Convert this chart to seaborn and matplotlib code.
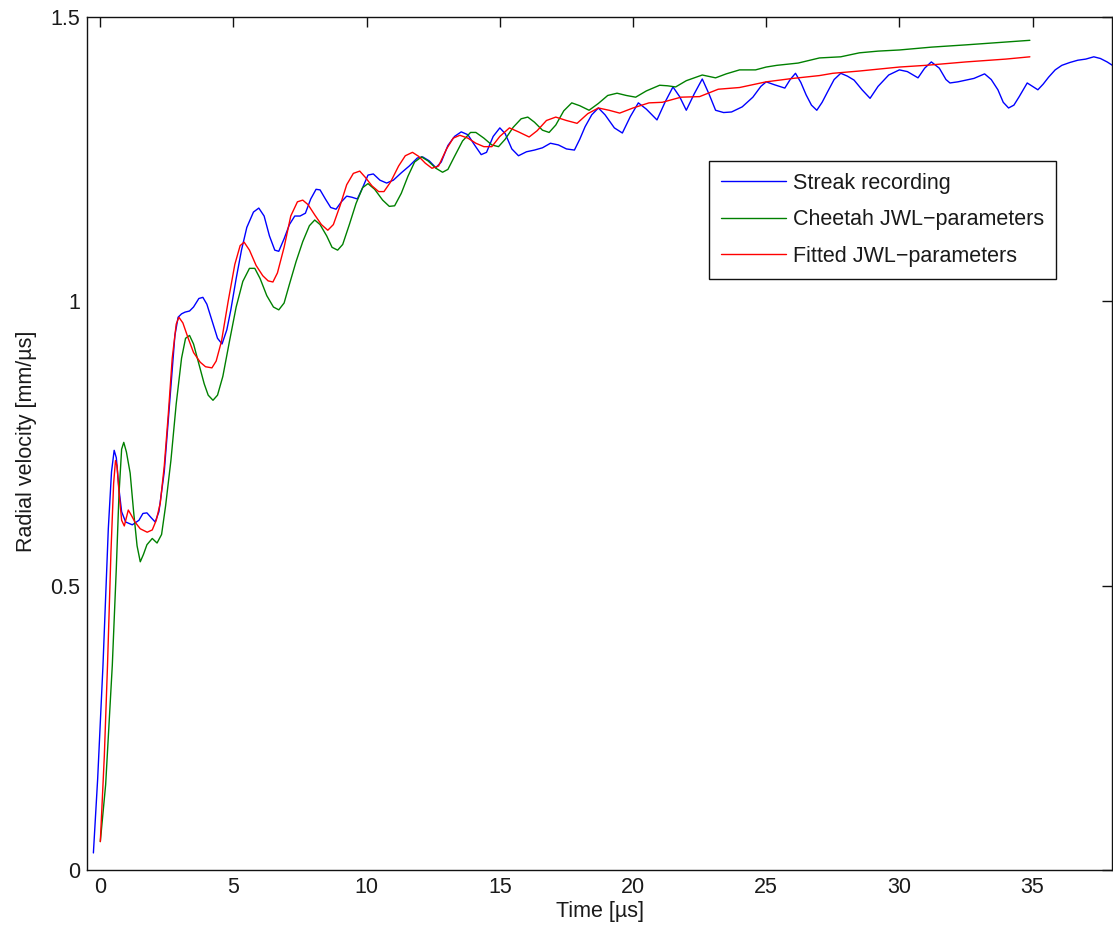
import numpy as np
import pandas as pd
import matplotlib
matplotlib.use("Agg")
import matplotlib.pyplot as plt
import seaborn as sns

# Streak recording (measured radial wall velocity)
streak_t = [-0.26, -0.1, 0.1, 0.3, 0.42, 0.52, 0.6, 0.7, 0.8, 0.95, 1.2, 1.45, 1.6,
            1.75, 1.9, 2.06, 2.2, 2.4, 2.6, 2.8, 2.92, 3.05, 3.18, 3.35, 3.5, 3.7,
            3.85, 4.0, 4.2, 4.4, 4.57, 4.75, 4.9, 5.1, 5.3, 5.5, 5.75, 5.95, 6.15,
            6.35, 6.55, 6.7, 6.9, 7.1, 7.3, 7.5, 7.7, 7.9, 8.1, 8.25, 8.45, 8.65,
            8.85, 9.05, 9.25, 9.45, 9.65, 9.85, 10.05, 10.25, 10.5, 10.75, 11.0,
            11.3, 11.6, 11.9, 12.1, 12.35, 12.6, 12.8, 13.05, 13.3, 13.55, 13.8,
            14.05, 14.3, 14.5, 14.75, 15.0, 15.2, 15.45, 15.7, 16.0, 16.3, 16.6,
            16.9, 17.2, 17.5, 17.8, 18.0, 18.2, 18.45, 18.7, 18.95, 19.3, 19.6,
            19.9, 20.2, 20.5, 20.9, 21.2, 21.5, 21.75, 22.0, 22.3, 22.6, 22.85,
            23.1, 23.4, 23.7, 24.1, 24.5, 24.8, 25.0, 25.3, 25.7, 25.9, 26.1, 26.3,
            26.5, 26.7, 26.9, 27.1, 27.3, 27.55, 27.8, 28.05, 28.3, 28.6, 28.9,
            29.2, 29.6, 30.0, 30.3, 30.7, 30.95, 31.2, 31.5, 31.75, 31.9, 32.2,
            32.5, 32.8, 33.2, 33.45, 33.7, 33.9, 34.1, 34.3, 34.5, 34.8, 35.0, 35.2,
            35.4, 35.6, 35.85, 36.1, 36.4, 36.7, 37.0, 37.3, 37.55, 37.8, 38.0]
streak_v = [0.03, 0.16, 0.36, 0.60, 0.70, 0.738, 0.725, 0.67, 0.63, 0.612, 0.607,
            0.615, 0.627, 0.628, 0.62, 0.612, 0.63, 0.70, 0.82, 0.94, 0.972, 0.978,
            0.981, 0.983, 0.99, 1.005, 1.007, 0.995, 0.965, 0.935, 0.925, 0.95,
            0.985, 1.04, 1.09, 1.13, 1.157, 1.164, 1.15, 1.115, 1.09, 1.088, 1.11,
            1.135, 1.15, 1.15, 1.155, 1.18, 1.197, 1.196, 1.18, 1.165, 1.162, 1.175,
            1.185, 1.183, 1.18, 1.20, 1.222, 1.224, 1.213, 1.208, 1.213, 1.226,
            1.238, 1.252, 1.254, 1.247, 1.235, 1.245, 1.274, 1.29, 1.298, 1.293,
            1.275, 1.258, 1.262, 1.29, 1.305, 1.295, 1.268, 1.256, 1.263, 1.266,
            1.27, 1.278, 1.275, 1.268, 1.266, 1.285, 1.307, 1.328, 1.34, 1.328,
            1.305, 1.296, 1.325, 1.349, 1.338, 1.319, 1.35, 1.377, 1.36, 1.336,
            1.365, 1.391, 1.365, 1.336, 1.332, 1.333, 1.342, 1.359, 1.378, 1.386,
            1.381, 1.375, 1.39, 1.401, 1.385, 1.363, 1.345, 1.336, 1.35, 1.368,
            1.39, 1.401, 1.396, 1.389, 1.372, 1.357, 1.378, 1.398, 1.407, 1.404,
            1.393, 1.41, 1.421, 1.41, 1.39, 1.384, 1.386, 1.389, 1.392, 1.40, 1.39,
            1.372, 1.35, 1.34, 1.345, 1.36, 1.384, 1.378, 1.372, 1.382, 1.394,
            1.407, 1.415, 1.42, 1.424, 1.426, 1.43, 1.427, 1.421, 1.415]

# Simulation with Cheetah JWL parameters
cheetah_t = [0.0, 0.2, 0.45, 0.6, 0.7, 0.8, 0.88, 0.98, 1.12, 1.25, 1.38, 1.5, 1.62,
             1.75, 1.95, 2.13, 2.3, 2.45, 2.65, 2.85, 3.05, 3.2, 3.35, 3.5, 3.7,
             3.9, 4.05, 4.23, 4.4, 4.6, 4.85, 5.1, 5.35, 5.6, 5.8, 6.0, 6.25, 6.5,
             6.7, 6.9, 7.1, 7.35, 7.6, 7.85, 8.05, 8.25, 8.5, 8.7, 8.91, 9.1, 9.35,
             9.6, 9.85, 10.05, 10.3, 10.6, 10.85, 11.05, 11.3, 11.55, 11.8, 12.06,
             12.3, 12.6, 12.85, 13.05, 13.3, 13.6, 13.9, 14.1, 14.4, 14.7, 14.95,
             15.2, 15.5, 15.8, 16.05, 16.3, 16.6, 16.85, 17.1, 17.4, 17.7, 18.0,
             18.35, 18.7, 19.05, 19.4, 19.75, 20.1, 20.5, 21.0, 21.3, 21.6, 22.0,
             22.6, 23.1, 23.5, 24.0, 24.6, 25.0, 25.4, 26.2, 27.0, 27.8, 28.5, 29.2,
             30.0, 31.2, 32.5, 33.7, 34.9]
cheetah_v = [0.05, 0.15, 0.36, 0.53, 0.66, 0.74, 0.752, 0.735, 0.698, 0.63, 0.57,
             0.542, 0.555, 0.572, 0.583, 0.575, 0.59, 0.64, 0.72, 0.82, 0.90, 0.935,
             0.94, 0.925, 0.89, 0.855, 0.835, 0.826, 0.835, 0.868, 0.93, 0.99,
             1.035, 1.058, 1.058, 1.04, 1.01, 0.99, 0.985, 0.997, 1.03, 1.07, 1.105,
             1.133, 1.143, 1.135, 1.115, 1.095, 1.09, 1.10, 1.135, 1.172, 1.20,
             1.207, 1.197, 1.178, 1.167, 1.168, 1.19, 1.22, 1.245, 1.254, 1.247,
             1.234, 1.227, 1.232, 1.255, 1.282, 1.297, 1.297, 1.287, 1.275, 1.272,
             1.285, 1.306, 1.321, 1.324, 1.315, 1.301, 1.297, 1.31, 1.335, 1.349,
             1.344, 1.336, 1.348, 1.362, 1.366, 1.362, 1.359, 1.37, 1.38, 1.379,
             1.377, 1.388, 1.398, 1.393, 1.40, 1.407, 1.407, 1.412, 1.415, 1.419,
             1.428, 1.43, 1.437, 1.44, 1.442, 1.447, 1.451, 1.455, 1.459]

# Simulation with fitted JWL parameters
fitted_t = [0.0, 0.15, 0.27, 0.4, 0.5, 0.57, 0.63, 0.7, 0.8, 0.9, 0.98, 1.05, 1.15,
            1.3, 1.5, 1.76, 1.95, 2.1, 2.25, 2.4, 2.55, 2.7, 2.85, 2.95, 3.1, 3.3,
            3.5, 3.75, 3.95, 4.19, 4.35, 4.55, 4.8, 5.05, 5.25, 5.4, 5.6, 5.85, 6.1,
            6.3, 6.48, 6.65, 6.9, 7.15, 7.4, 7.6, 7.8, 8.05, 8.3, 8.54, 8.75, 9.0,
            9.25, 9.5, 9.74, 9.95, 10.2, 10.45, 10.65, 10.9, 11.2, 11.45, 11.72,
            11.95, 12.2, 12.45, 12.7, 13.0, 13.25, 13.5, 13.8, 14.1, 14.4, 14.7,
            15.0, 15.36, 15.7, 16.1, 16.4, 16.75, 17.1, 17.5, 17.9, 18.3, 18.7,
            19.1, 19.5, 20.0, 20.6, 21.1, 21.8, 22.5, 23.2, 24.0, 25.0, 26.0, 27.0,
            27.5, 28.5, 30.0, 31.0, 32.5, 34.0, 34.9]
fitted_v = [0.05, 0.20, 0.36, 0.56, 0.68, 0.72, 0.71, 0.665, 0.615, 0.605, 0.62,
            0.633, 0.625, 0.612, 0.60, 0.594, 0.598, 0.615, 0.645, 0.71, 0.80, 0.90,
            0.96, 0.972, 0.962, 0.935, 0.91, 0.893, 0.885, 0.883, 0.895, 0.93, 1.00,
            1.065, 1.098, 1.104, 1.09, 1.063, 1.045, 1.036, 1.034, 1.05, 1.095,
            1.15, 1.175, 1.178, 1.17, 1.152, 1.135, 1.125, 1.135, 1.168, 1.205,
            1.225, 1.229, 1.218, 1.203, 1.193, 1.193, 1.21, 1.238, 1.256, 1.262,
            1.255, 1.243, 1.234, 1.238, 1.268, 1.287, 1.292, 1.287, 1.278, 1.272,
            1.272, 1.29, 1.305, 1.298, 1.289, 1.30, 1.318, 1.324, 1.318, 1.313,
            1.33, 1.34, 1.336, 1.331, 1.34, 1.349, 1.35, 1.359, 1.36, 1.373, 1.376,
            1.386, 1.392, 1.397, 1.401, 1.405, 1.412, 1.415, 1.421, 1.426, 1.43]

series_names = ["Streak recording", "Cheetah JWL\u2212parameters", "Fitted JWL\u2212parameters"]
series_colors = ["#0000ff", "#008000", "#ff0000"]

x_ticks = [0, 5, 10, 15, 20, 25, 30, 35]
y_ticks = [0, 0.5, 1.0, 1.5]
y_tick_labels = ["0", "0.5", "1", "1.5"]

frames = []
for name, t, v in zip(series_names,
                      [streak_t, cheetah_t, fitted_t],
                      [streak_v, cheetah_v, fitted_v]):
    frames.append(pd.DataFrame({"time": t, "velocity": v, "series": name}))
df = pd.concat(frames, ignore_index=True)

sns.set_theme(style="white")
plt.rcParams["font.family"] = ["Liberation Sans", "DejaVu Sans"]
plt.rcParams["axes.unicode_minus"] = True

fig = plt.figure(figsize=(11.13, 9.31), dpi=100)
ax = fig.add_axes([87 / 1113, 61 / 931, 1 - 87 / 1113 - 0.0005, (870 - 17) / 931])

sns.lineplot(data=df, x="time", y="velocity", hue="series",
             hue_order=series_names, palette=dict(zip(series_names, series_colors)),
             estimator=None, sort=False, linewidth=1.0, ax=ax)
for line in ax.get_lines():
    line.set_solid_joinstyle("round")
    line.set_solid_capstyle("round")

ax.set_xlim(-0.5, 38)
ax.set_ylim(0, 1.5)
ax.set_xticks(x_ticks)
ax.set_xticklabels([str(t) for t in x_ticks])
ax.set_yticks(y_ticks)
ax.set_yticklabels(y_tick_labels)

text_color = "#1a1a1a"
fs = 15.5
ax.tick_params(axis="both", which="major", direction="in", length=7, width=1.0,
               color="#111111", labelsize=fs, labelcolor=text_color,
               top=True, right=True, pad=5)
for sp in ax.spines.values():
    sp.set_visible(True)
    sp.set_color("#111111")
    sp.set_linewidth(1.0)

ax.set_xlabel("Time [\u00b5s]", fontsize=fs, color=text_color)
ax.set_ylabel("Radial velocity [mm/\u00b5s]", fontsize=fs, color=text_color)
ax.xaxis.set_label_coords(0.5, -0.036)
ax.yaxis.set_label_coords(-0.049, 0.503)

handles, labels = ax.get_legend_handles_labels()
leg = ax.legend(handles, labels, loc="upper right", bbox_to_anchor=(0.945, 0.831),
                borderaxespad=0, fontsize=fs, frameon=True, fancybox=False,
                framealpha=1, edgecolor="#111111", handlelength=3.0,
                handletextpad=0.35, labelspacing=0.72, borderpad=0.55)
leg.get_frame().set_linewidth(1.0)
for txt in leg.get_texts():
    txt.set_color(text_color)

fig.savefig("out.png", dpi=100, facecolor="white")
